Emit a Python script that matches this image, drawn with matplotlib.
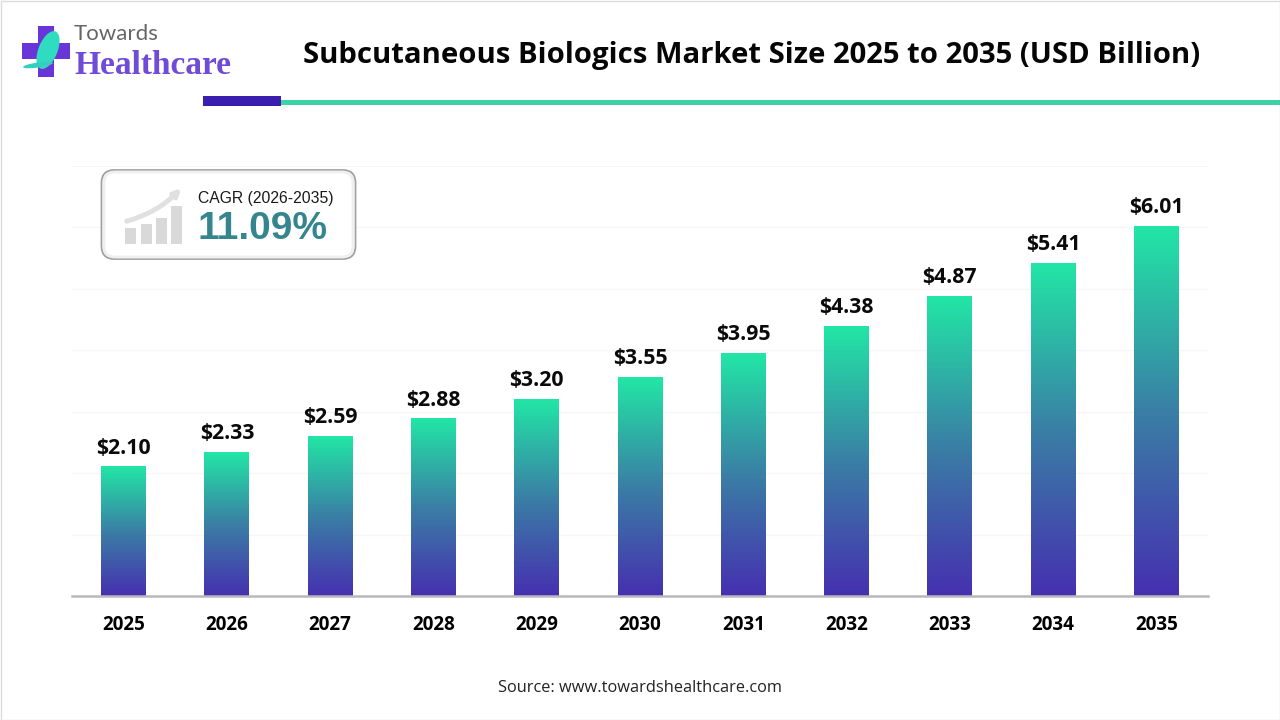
"""Subcutaneous Biologics Market Size, bar chart with gradient bars."""
import numpy as np
import matplotlib
matplotlib.use("Agg")
import matplotlib.pyplot as plt
from matplotlib.colors import LinearSegmentedColormap
from matplotlib.patches import FancyBboxPatch, Polygon, Rectangle, Ellipse

ANOS = ["2025", "2026", "2027", "2028", "2029", "2030", "2031", "2032", "2033", "2034", "2035"]
VALORES = [2.10, 2.33, 2.59, 2.88, 3.20, 3.55, 3.95, 4.38, 4.87, 5.41, 6.01]
TITULO = "Subcutaneous Biologics Market Size 2025 to 2035 (USD Billion)"
FONTE = "Source: www.towardshealthcare.com"

VERDE, ROXO, TEAL, INDIGO = "#22e6a6", "#4630b0", "#3dd1a8", "#3a1fae"
gradiente = LinearSegmentedColormap.from_list("barra", [ROXO, "#3a7fa5", VERDE])

plt.rcParams["font.family"] = ["Open Sans", "DejaVu Sans"]
fig = plt.figure(figsize=(12.8, 7.2), dpi=100, facecolor="white")

# camada em pixels para logo, título e selo
tela = fig.add_axes([0, 0, 1, 1], zorder=3)
tela.set_xlim(0, 1280)
tela.set_ylim(720, 0)
tela.axis("off")
tela.patch.set_alpha(0)

# gráfico: eixo y de 0 a 7, x do pixel 72 ao 1208
ax = fig.add_axes([72 / 1280, 1 - 596 / 720, 1136 / 1280, 430.5 / 720], zorder=1)
barras = ax.bar(ANOS, VALORES, width=0.435, color="none")
ax.set_yticks(range(1, 8))
ax.grid(axis="y", color="#f6f6f6", linewidth=1)
ax.set_axisbelow(True)
ax.tick_params(axis="y", left=False, labelleft=False)
ax.tick_params(axis="x", bottom=False, pad=10)
for s in ("top", "left", "right"):
    ax.spines[s].set_visible(False)
ax.spines["bottom"].set_color("#b9b9bd")
ax.spines["bottom"].set_linewidth(1.8)
for lab in ax.get_xticklabels():
    lab.set_fontsize(13.5)
    lab.set_fontweight("bold")

faixa = np.linspace(0, 1, 256).reshape(-1, 1)
for b, v in zip(barras, VALORES):
    x0 = b.get_x()
    ax.imshow(faixa, cmap=gradiente, origin="lower", aspect="auto",
              extent=[x0, x0 + b.get_width(), 0, v], zorder=2)
    ax.annotate(f"${v:.2f}", (x0 + b.get_width() / 2, v), xytext=(0, 6),
                textcoords="offset points", ha="center", va="bottom",
                fontsize=15.3, fontweight="bold", color="#0a0a0a")
ax.set_xlim(-0.5, 10.5)
ax.set_ylim(0, 7)

# moldura da figura
tela.add_patch(Rectangle((0.5, 0.5), 1279, 719, fill=False, ec="#dcdcdc", lw=1))

# título e filetes
tela.text(752, 55, TITULO, ha="center", va="center", fontsize=21.1,
          fontweight="bold", color="#050505")
tela.add_patch(Rectangle((281, 100), 999, 5, fc=TEAL, ec="none"))
tela.add_patch(Rectangle((203, 96), 78, 10, fc=INDIGO, ec="none"))

# logo
tela.add_patch(Polygon([(38, 26), (54, 26), (54, 43), (70, 43), (70, 59), (54, 59),
                        (54, 77), (38, 77), (38, 59), (22, 59), (22, 43), (38, 43)],
                       fc="#6a35d8", ec="none"))
tela.add_patch(Ellipse((48, 50), 19, 40, angle=22, fc="#2fdcc0", ec="none"))
tela.add_patch(Ellipse((38, 65), 30, 5, angle=-8, fc="#35cfc0", ec="none"))
tela.text(74, 34, "Towards", ha="left", va="center", fontsize=16, family="Lato",
          color="#666666")
tela.text(74, 65, "Healthcare", ha="left", va="center", fontsize=24,
          family="Liberation Serif", fontweight="bold", color="#6f4bd8")

# selo CAGR
tela.add_patch(FancyBboxPatch((101.5, 170), 254, 89, boxstyle="round,pad=0,rounding_size=13",
                              fc="white", ec="#a0a0a0", lw=1.3))
tela.add_patch(FancyBboxPatch((104, 172), 249, 85, boxstyle="round,pad=0,rounding_size=11",
                              fc="none", ec="#efefef", lw=2))
for xb, topo in zip((125, 141, 156, 171), (228, 224, 218, 206)):
    tela.add_patch(Rectangle((xb, topo), 11, 244 - topo, fc="#d9d9d9", ec="none"))
tela.annotate("", xy=(183, 186), xytext=(124, 222),
              arrowprops=dict(arrowstyle="->", color="#e0e0e0", lw=3.5,
                              connectionstyle="arc3,rad=0.15"))
tela.text(198, 198, "CAGR (2026-2035)", ha="left", va="center", fontsize=11.3,
          family="Liberation Sans", color="#1a1a1a")
tela.text(198, 229, "11.09%", ha="left", va="center", fontsize=28,
          family="Liberation Sans", fontweight="bold", color="#35858f")

# fonte
tela.text(640, 688, FONTE, ha="center", va="center", fontsize=11.8, color="#222222")

fig.savefig("out.png", dpi=100)
